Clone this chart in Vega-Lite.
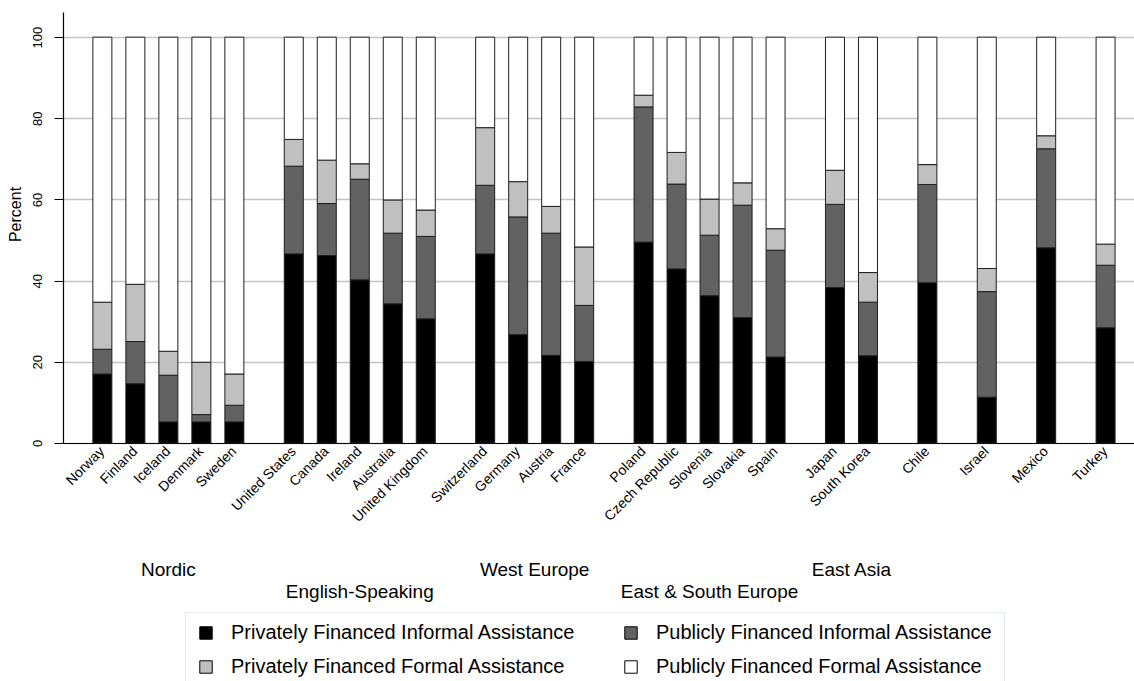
{
  "$schema": "https://vega.github.io/schema/vega-lite/v6.json",
  "width": 1071,
  "height": 431,
  "autosize": {"type": "none"},
  "padding": {"left": 63, "top": 12, "right": 0, "bottom": 238},
  "config": {
    "view": {"stroke": null},
    "font": "Liberation Sans",
    "legend": {
      "orient": "none",
      "legendX": 122,
      "legendY": 600,
      "columns": 2,
      "direction": "horizontal",
      "symbolType": "square",
      "symbolSize": 154,
      "symbolStrokeColor": "#000000",
      "symbolStrokeWidth": 1,
      "labelFontSize": 20,
      "labelFont": "Liberation Sans",
      "labelColor": "#000000",
      "labelOffset": 15,
      "labelLimit": 0,
      "columnPadding": 45,
      "rowPadding": 14,
      "padding": 11,
      "strokeColor": "#e3e8ea",
      "fillColor": "#ffffff"
    }
  },
  "layer": [
    {
      "data": {
        "values": [
          {"country": "Norway", "Privately Financed Informal Assistance": 17.0, "Publicly Financed Informal Assistance": 6.1, "Privately Financed Formal Assistance": 11.6, "Publicly Financed Formal Assistance": 65.3},
          {"country": "Finland", "Privately Financed Informal Assistance": 14.6, "Publicly Financed Informal Assistance": 10.4, "Privately Financed Formal Assistance": 14.1, "Publicly Financed Formal Assistance": 60.9},
          {"country": "Iceland", "Privately Financed Informal Assistance": 5.2, "Publicly Financed Informal Assistance": 11.5, "Privately Financed Formal Assistance": 5.9, "Publicly Financed Formal Assistance": 77.4},
          {"country": "Denmark", "Privately Financed Informal Assistance": 5.2, "Publicly Financed Informal Assistance": 1.8, "Privately Financed Formal Assistance": 12.9, "Publicly Financed Formal Assistance": 80.1},
          {"country": "Sweden", "Privately Financed Informal Assistance": 5.2, "Publicly Financed Informal Assistance": 4.1, "Privately Financed Formal Assistance": 7.7, "Publicly Financed Formal Assistance": 83.0},
          {"country": "United States", "Privately Financed Informal Assistance": 46.6, "Publicly Financed Informal Assistance": 21.6, "Privately Financed Formal Assistance": 6.6, "Publicly Financed Formal Assistance": 25.2},
          {"country": "Canada", "Privately Financed Informal Assistance": 46.2, "Publicly Financed Informal Assistance": 12.8, "Privately Financed Formal Assistance": 10.7, "Publicly Financed Formal Assistance": 30.3},
          {"country": "Ireland", "Privately Financed Informal Assistance": 40.2, "Publicly Financed Informal Assistance": 24.8, "Privately Financed Formal Assistance": 3.8, "Publicly Financed Formal Assistance": 31.2},
          {"country": "Australia", "Privately Financed Informal Assistance": 34.3, "Publicly Financed Informal Assistance": 17.4, "Privately Financed Formal Assistance": 8.2, "Publicly Financed Formal Assistance": 40.1},
          {"country": "United Kingdom", "Privately Financed Informal Assistance": 30.6, "Publicly Financed Informal Assistance": 20.3, "Privately Financed Formal Assistance": 6.5, "Publicly Financed Formal Assistance": 42.6},
          {"country": "Switzerland", "Privately Financed Informal Assistance": 46.6, "Publicly Financed Informal Assistance": 16.9, "Privately Financed Formal Assistance": 14.2, "Publicly Financed Formal Assistance": 22.3},
          {"country": "Germany", "Privately Financed Informal Assistance": 26.7, "Publicly Financed Informal Assistance": 29.0, "Privately Financed Formal Assistance": 8.7, "Publicly Financed Formal Assistance": 35.6},
          {"country": "Austria", "Privately Financed Informal Assistance": 21.6, "Publicly Financed Informal Assistance": 30.1, "Privately Financed Formal Assistance": 6.6, "Publicly Financed Formal Assistance": 41.7},
          {"country": "France", "Privately Financed Informal Assistance": 20.1, "Publicly Financed Informal Assistance": 13.8, "Privately Financed Formal Assistance": 14.4, "Publicly Financed Formal Assistance": 51.7},
          {"country": "Poland", "Privately Financed Informal Assistance": 49.5, "Publicly Financed Informal Assistance": 33.3, "Privately Financed Formal Assistance": 2.9, "Publicly Financed Formal Assistance": 14.3},
          {"country": "Czech Republic", "Privately Financed Informal Assistance": 42.9, "Publicly Financed Informal Assistance": 20.9, "Privately Financed Formal Assistance": 7.8, "Publicly Financed Formal Assistance": 28.4},
          {"country": "Slovenia", "Privately Financed Informal Assistance": 36.3, "Publicly Financed Informal Assistance": 14.9, "Privately Financed Formal Assistance": 8.9, "Publicly Financed Formal Assistance": 39.9},
          {"country": "Slovakia", "Privately Financed Informal Assistance": 30.9, "Publicly Financed Informal Assistance": 27.7, "Privately Financed Formal Assistance": 5.5, "Publicly Financed Formal Assistance": 35.9},
          {"country": "Spain", "Privately Financed Informal Assistance": 21.2, "Publicly Financed Informal Assistance": 26.3, "Privately Financed Formal Assistance": 5.3, "Publicly Financed Formal Assistance": 47.2},
          {"country": "Japan", "Privately Financed Informal Assistance": 38.3, "Publicly Financed Informal Assistance": 20.5, "Privately Financed Formal Assistance": 8.4, "Publicly Financed Formal Assistance": 32.8},
          {"country": "South Korea", "Privately Financed Informal Assistance": 21.5, "Publicly Financed Informal Assistance": 13.2, "Privately Financed Formal Assistance": 7.3, "Publicly Financed Formal Assistance": 58.0},
          {"country": "Chile", "Privately Financed Informal Assistance": 39.5, "Publicly Financed Informal Assistance": 24.2, "Privately Financed Formal Assistance": 4.9, "Publicly Financed Formal Assistance": 31.4},
          {"country": "Israel", "Privately Financed Informal Assistance": 11.3, "Publicly Financed Informal Assistance": 26.0, "Privately Financed Formal Assistance": 5.7, "Publicly Financed Formal Assistance": 57.0},
          {"country": "Mexico", "Privately Financed Informal Assistance": 48.1, "Publicly Financed Informal Assistance": 24.4, "Privately Financed Formal Assistance": 3.2, "Publicly Financed Formal Assistance": 24.3},
          {"country": "Turkey", "Privately Financed Informal Assistance": 28.4, "Publicly Financed Informal Assistance": 15.4, "Privately Financed Formal Assistance": 5.2, "Publicly Financed Formal Assistance": 51.0}
        ]
      },
      "transform": [
        {"fold": ["Privately Financed Informal Assistance", "Publicly Financed Informal Assistance", "Privately Financed Formal Assistance", "Publicly Financed Formal Assistance"], "as": ["type", "value"]},
        {"window": [{"op": "row_number", "as": "stackorder"}], "groupby": ["country"]}
      ],
      "mark": {"type": "bar", "width": 19, "stroke": "#1e1e1e", "strokeWidth": 1},
      "encoding": {
        "x": {
          "field": "country",
          "type": "nominal",
          "title": null,
          "scale": {
            "domain": ["_a1","_a2","_a3","_a4","_a5","Norway","_1","_2","_3","_4","Finland","_5","_6","_7","_8","Iceland","_9","_10","_11","_12","Denmark","_13","_14","_15","_16","Sweden","_17","_18","_19","_20","_21","_22","_23","_24","United States","_25","_26","_27","_28","Canada","_29","_30","_31","_32","Ireland","_33","_34","_35","_36","Australia","_37","_38","_39","_40","United Kingdom","_41","_42","_43","_44","_45","_46","_47","_48","Switzerland","_49","_50","_51","_52","Germany","_53","_54","_55","_56","Austria","_57","_58","_59","_60","France","_61","_62","_63","_64","_65","_66","_67","_68","Poland","_69","_70","_71","_72","Czech Republic","_73","_74","_75","_76","Slovenia","_77","_78","_79","_80","Slovakia","_81","_82","_83","_84","Spain","_85","_86","_87","_88","_89","_90","_91","_92","Japan","_93","_94","_95","_96","South Korea","_97","_98","_99","_100","_101","_102","_103","_104","Chile","_105","_106","_107","_108","_109","_110","_111","_112","Israel","_113","_114","_115","_116","_117","_118","_119","_120","Mexico","_121","_122","_123","_124","_125","_126","_127","_128","Turkey","_z1","_z2","_z3"],
            "paddingInner": 0,
            "paddingOuter": 0.636,
            "align": 0.366,
            "round": false
          },
          "axis": {
            "domainColor": "#000000",
            "domainWidth": 1.2,
            "ticks": false,
            "grid": false,
            "labelAngle": -45,
            "labelAlign": "right",
            "labelBaseline": "middle",
            "labelPadding": 6,
            "labelFontSize": 14,
            "labelColor": "#000000",
            "labelOverlap": false,
            "labelExpr": "indexof(datum.label, '_') == 0 ? '' : datum.label"
          }
        },
        "y": {
          "field": "value",
          "type": "quantitative",
          "stack": "zero",
          "title": "Percent",
          "scale": {"domain": [0, 106.2], "nice": false},
          "axis": {
            "values": [0, 20, 40, 60, 80, 100],
            "grid": true,
            "gridColor": "#c4c4c4",
            "gridWidth": 1.5,
            "domainColor": "#000000",
            "domainWidth": 1.2,
            "tickColor": "#000000",
            "tickSize": 9,
            "labelAngle": 270,
            "labelAlign": "center",
            "labelBaseline": "bottom",
            "labelPadding": 10,
            "labelFontSize": 13,
            "labelColor": "#000000",
            "titleFontSize": 16,
            "titleFontWeight": "normal",
            "titleColor": "#000000",
            "titlePadding": 8,
            "titleY": 202
          }
        },
        "color": {
          "field": "type",
          "type": "nominal",
          "scale": {
            "domain": ["Privately Financed Informal Assistance", "Publicly Financed Informal Assistance", "Privately Financed Formal Assistance", "Publicly Financed Formal Assistance"],
            "range": ["#000000", "#626262", "#c0c0c0", "#ffffff"]
          },
          "legend": {"title": null}
        },
        "order": {"field": "stackorder", "type": "quantitative", "sort": "ascending"}
      }
    },
    {
      "data": {"values": [{"group": "Nordic", "anchor": "Iceland"}]},
      "mark": {"type": "text", "fontSize": 19, "font": "Liberation Sans", "color": "#000000", "align": "center", "baseline": "middle"},
      "encoding": {
        "x": {"field": "anchor", "type": "nominal", "title": null},
        "y": {"datum": -31.3, "type": "quantitative"},
        "text": {"field": "group"}
      }
    },
    {
      "data": {"values": [{"group": "English-Speaking", "anchor": "Ireland"}, {"group": "East & South Europe", "anchor": "Slovenia"}]},
      "mark": {"type": "text", "fontSize": 19, "font": "Liberation Sans", "color": "#000000", "align": "center", "baseline": "middle"},
      "encoding": {
        "x": {"field": "anchor", "type": "nominal", "title": null},
        "y": {"datum": -36.7, "type": "quantitative"},
        "text": {"field": "group"}
      }
    },
    {
      "data": {"values": [{"group": "West Europe", "anchor": "Germany"}, {"group": "East Asia", "anchor": "Japan"}]},
      "mark": {"type": "text", "fontSize": 19, "font": "Liberation Sans", "color": "#000000", "align": "center", "baseline": "middle", "dx": 16.5},
      "encoding": {
        "x": {"field": "anchor", "type": "nominal", "title": null},
        "y": {"datum": -31.3, "type": "quantitative"},
        "text": {"field": "group"}
      }
    }
  ]
}
